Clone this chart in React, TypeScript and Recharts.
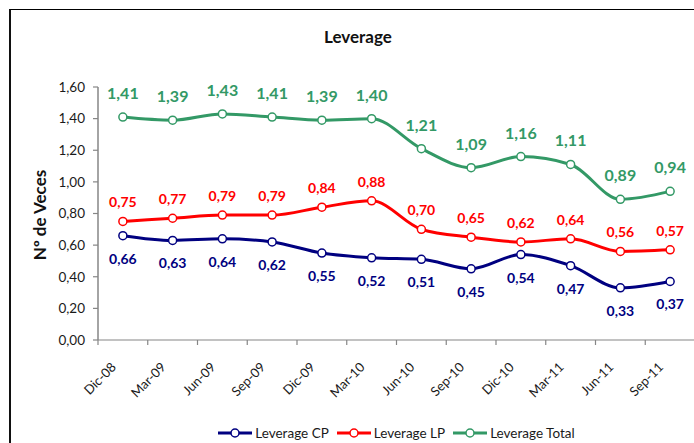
import React from "react";
import { LabelList, Legend, Line, LineChart, XAxis, YAxis } from "recharts";

const categories = ["Dic-08", "Mar-09", "Jun-09", "Sep-09", "Dic-09", "Mar-10", "Jun-10", "Sep-10", "Dic-10", "Mar-11", "Jun-11", "Sep-11"];
const leverageCP = [0.66, 0.63, 0.64, 0.62, 0.55, 0.52, 0.51, 0.45, 0.54, 0.47, 0.33, 0.37];
const leverageLP = [0.75, 0.77, 0.79, 0.79, 0.84, 0.88, 0.7, 0.65, 0.62, 0.64, 0.56, 0.57];
const leverageTotal = [1.41, 1.39, 1.43, 1.41, 1.39, 1.4, 1.21, 1.09, 1.16, 1.11, 0.89, 0.94];
const yTicks = [0, 0.2, 0.4, 0.6, 0.8, 1.0, 1.2, 1.4, 1.6];

const FONT = "Lato, 'Open Sans', sans-serif";
const AXIS = "#868686";
const BLUE = "#000080";
const RED = "#ff0000";
const GREEN = "#339966";

const data = categories.map((name, i) => ({
  name,
  cp: leverageCP[i],
  lp: leverageLP[i],
  total: leverageTotal[i],
}));

const fmt = (v: any) => (typeof v === "number" ? v.toFixed(2).replace(".", ",") : v);

function XTick(props: any) {
  const { x, y, payload } = props;
  const half = payload?.offset ?? 0;
  const ax = x - 6;
  const ay = y + 23;
  return (
    <g>
      <line x1={x - half} x2={x - half} y1={y - 5} y2={y} stroke={AXIS} strokeWidth={1.2} />
      <text
        x={ax}
        y={ay}
        transform={`rotate(-45 ${ax} ${ay})`}
        textAnchor="end"
        fontFamily={FONT}
        fontSize={13}
        fill="#1a1a1a"
      >
        {payload.value}
      </text>
    </g>
  );
}

function LegendContent(props: any) {
  const items = props.payload || [];
  return (
    <div
      style={{
        display: "flex",
        justifyContent: "center",
        alignItems: "center",
        height: 20,
        gap: 8,
        fontFamily: FONT,
        fontSize: 13.5,
        color: "#1a1a1a",
      }}
    >
      {items.map((item: any) => (
        <div key={item.value} style={{ display: "flex", alignItems: "center" }}>
          <svg width={34} height={10}>
            <line x1={0} x2={34} y1={5} y2={5} stroke={item.color} strokeWidth={3} />
            <circle cx={17} cy={5} r={4} fill="#fff" stroke={item.color} strokeWidth={1.5} />
          </svg>
          <span style={{ marginLeft: 3 }}>{item.value}</span>
        </div>
      ))}
    </div>
  );
}

export default function App() {
  return (
    <div style={{ position: "absolute", left: 0, top: 0, width: 694, height: 443, overflow: "hidden", background: "#fff" }}>
      <div
        style={{
          position: "absolute",
          left: 9,
          top: 9,
          width: 800,
          height: 800,
          borderTop: "1.5px solid #000",
          borderLeft: "2px solid #111",
        }}
      />
      <LineChart width={700} height={443} data={data} margin={{ top: 87, right: 5, left: 0, bottom: 23 }}>
        <XAxis
          dataKey="name"
          scale="band"
          height={60}
          tickSize={5}
          tickMargin={0}
          tickLine={false}
          axisLine={{ stroke: AXIS, strokeWidth: 1.2 }}
          tick={<XTick />}
          interval={0}
        />
        <YAxis
          width={98}
          domain={[0, 1.6]}
          ticks={yTicks}
          tickFormatter={fmt}
          tickSize={5}
          tickMargin={8}
          axisLine={{ stroke: AXIS, strokeWidth: 1.5 }}
          tickLine={{ stroke: AXIS, strokeWidth: 1.2 }}
          tick={{ fontFamily: FONT, fontSize: 13.5, fill: "#1a1a1a" }}
          interval={0}
        />
        <Legend
          verticalAlign="bottom"
          content={<LegendContent />}
          wrapperStyle={{ left: 98, width: 597, bottom: 0 }}
        />
        <Line
          name="Leverage CP"
          dataKey="cp"
          type="monotone"
          stroke={BLUE}
          strokeWidth={3}
          dot={{ r: 4, fill: "#fff", stroke: BLUE, strokeWidth: 1.5 }}
          activeDot={false}
          isAnimationActive={false}
        >
          <LabelList dataKey="cp" position="bottom" offset={18} formatter={fmt} fill={BLUE} fontSize={14} fontWeight="bold" fontFamily={FONT} />
        </Line>
        <Line
          name="Leverage LP"
          dataKey="lp"
          type="monotone"
          stroke={RED}
          strokeWidth={3}
          dot={{ r: 4, fill: "#fff", stroke: RED, strokeWidth: 1.5 }}
          activeDot={false}
          isAnimationActive={false}
        >
          <LabelList dataKey="lp" position="top" offset={14} formatter={fmt} fill={RED} fontSize={14} fontWeight="bold" fontFamily={FONT} />
        </Line>
        <Line
          name="Leverage Total"
          dataKey="total"
          type="monotone"
          stroke={GREEN}
          strokeWidth={3}
          dot={{ r: 4, fill: "#fff", stroke: GREEN, strokeWidth: 1.5 }}
          activeDot={false}
          isAnimationActive={false}
        >
          <LabelList dataKey="total" position="top" offset={18} formatter={fmt} fill={GREEN} fontSize={16} fontWeight="bold" fontFamily={FONT} />
        </Line>
      </LineChart>
      <svg width={694} height={443} style={{ position: "absolute", left: 0, top: 0, pointerEvents: "none" }}>
        <text x={358} y={43} textAnchor="middle" fontFamily={FONT} fontSize={17} fontWeight="bold" fill="#111">
          Leverage
        </text>
        <text
          x={46}
          y={215}
          transform="rotate(-90 46 215)"
          textAnchor="middle"
          fontFamily={FONT}
          fontSize={17}
          fontWeight="bold"
          fill="#111"
        >
          Nº de Veces
        </text>
      </svg>
    </div>
  );
}
